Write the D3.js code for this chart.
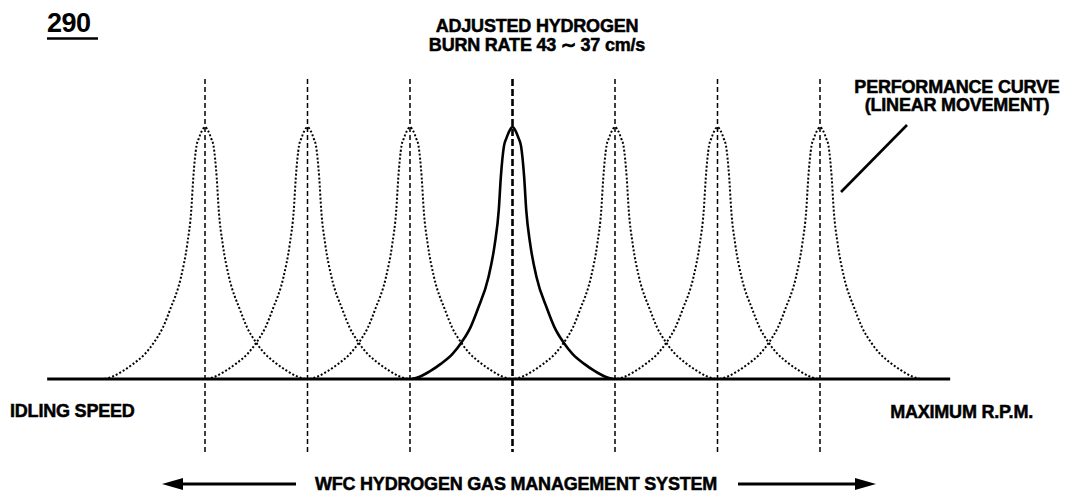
<!DOCTYPE html>
<html>
<head>
<meta charset="utf-8">
<script src="https://cdn.jsdelivr.net/npm/d3@7"></script>
<style>
  html, body { margin: 0; padding: 0; background: #fff; }
  svg { display: block; }
  text { font-family: "Liberation Sans", Arial, sans-serif; font-weight: bold; fill: #000; }
  text.heavy { stroke: #000; stroke-width: 0.5px; }
</style>
</head>
<body>
<svg id="chart" width="1066" height="493"></svg>
<script>
// Engine speed steps, each with its own performance curve peak
const speedSteps = [1, 2, 3, 4, 5, 6, 7];
const activeStep = 4;

// Shape of one performance curve: offset from the peak (in speed steps) and relative level
const profileOffset = [0, 0.03, 0.06, 0.083, 0.114, 0.134, 0.173, 0.234, 0.341, 0.41, 0.498, 0.585, 0.70, 0.80, 0.90, 0.98];
const profileLevel  = [1, 0.985, 0.955, 0.925, 0.80, 0.67, 0.535, 0.405, 0.275, 0.205, 0.145, 0.10, 0.06, 0.032, 0.01, 0];

// Extents of the speed axis and of the guide lines
const axisExtent  = [-0.54, 8.27];
const guideExtent = [-0.29, 1.19];

// Labels
const figureNumber = "290";
const titleLines = ["ADJUSTED HYDROGEN", "BURN RATE 43 \u223C 37 cm/s"];
const curveLabel = ["PERFORMANCE CURVE", "(LINEAR MOVEMENT)"];
const lowEndLabel = "IDLING SPEED";
const highEndLabel = "MAXIMUM R.P.M.";
const systemLabel = "WFC HYDROGEN GAS MANAGEMENT SYSTEM";

const svg = d3.select("#chart");

const x = d3.scaleLinear().domain([1, 7]).range([205, 820]);
const y = d3.scaleLinear().domain([0, 1]).range([379, 127]);

const labelSize = 18;
const labelSpacing = "-0.2px";

// Figure number with underline
svg.append("text").attr("x", 47).attr("y", 32)
  .attr("font-size", 27).style("letter-spacing", "-0.5px").text(figureNumber);
svg.append("line").attr("x1", 47).attr("x2", 98).attr("y1", 38.5).attr("y2", 38.5)
  .attr("stroke", "#000").attr("stroke-width", 2.4);

// Title
svg.selectAll("text.title").data(titleLines).join("text")
  .attr("class", "title heavy")
  .attr("x", 537).attr("y", (d, i) => 32 + i * 18.5)
  .attr("text-anchor", "middle").attr("font-size", labelSize)
  .style("letter-spacing", labelSpacing)
  .text(d => d);

// Vertical guide lines at each speed step
svg.selectAll("line.guide").data(speedSteps).join("line")
  .attr("class", "guide")
  .attr("x1", d => x(d)).attr("x2", d => x(d))
  .attr("y1", y(guideExtent[1])).attr("y2", y(guideExtent[0]))
  .attr("stroke", "#000")
  .attr("stroke-width", d => d === activeStep ? 2.6 : 1.5)
  .attr("stroke-dasharray", d => d === activeStep ? "7,3" : "5,3");

// Performance curves
const line = d3.line()
  .x(p => x(p[0])).y(p => y(p[1]))
  .curve(d3.curveMonotoneX);

function curvePoints(step) {
  const left = profileOffset.map((o, i) => [step - o, profileLevel[i]]).reverse();
  const right = profileOffset.slice(1).map((o, i) => [step + o, profileLevel[i + 1]]);
  return left.concat(right);
}

svg.selectAll("path.curve").data(speedSteps.filter(s => s !== activeStep)).join("path")
  .attr("class", "curve")
  .attr("d", d => line(curvePoints(d)))
  .attr("fill", "none").attr("stroke", "#000")
  .attr("stroke-width", 2).attr("stroke-dasharray", "2,2");

svg.append("path")
  .attr("d", line(curvePoints(activeStep)))
  .attr("fill", "none").attr("stroke", "#000").attr("stroke-width", 2.6);

// Speed axis baseline
svg.append("line")
  .attr("x1", x(axisExtent[0])).attr("x2", x(axisExtent[1]))
  .attr("y1", y(0)).attr("y2", y(0))
  .attr("stroke", "#000").attr("stroke-width", 3);

// Axis end labels
svg.append("text").attr("class", "heavy").attr("x", 10).attr("y", 417).attr("font-size", labelSize)
  .style("letter-spacing", labelSpacing).text(lowEndLabel);
svg.append("text").attr("class", "heavy").attr("x", 1033).attr("y", 418).attr("font-size", labelSize)
  .attr("text-anchor", "end").style("letter-spacing", labelSpacing).text(highEndLabel);

// Curve annotation with leader line
svg.selectAll("text.note").data(curveLabel).join("text")
  .attr("class", "note heavy")
  .attr("x", 957).attr("y", (d, i) => 93 + i * 18)
  .attr("text-anchor", "middle").attr("font-size", labelSize)
  .style("letter-spacing", labelSpacing)
  .text(d => d);
svg.append("line").attr("x1", 841).attr("y1", 192).attr("x2", 907).attr("y2", 125)
  .attr("stroke", "#000").attr("stroke-width", 2.6);

// System label between two arrows
svg.append("text").attr("class", "heavy").attr("x", 516).attr("y", 490).attr("text-anchor", "middle")
  .attr("font-size", labelSize).style("letter-spacing", labelSpacing).text(systemLabel);

const arrowY = 484;
svg.append("line").attr("x1", 176).attr("x2", 296).attr("y1", arrowY).attr("y2", arrowY)
  .attr("stroke", "#000").attr("stroke-width", 2.8);
svg.append("path").attr("d", `M162,${arrowY} L183,${arrowY - 6} L183,${arrowY + 6} Z`).attr("fill", "#000");
svg.append("line").attr("x1", 738).attr("x2", 862).attr("y1", arrowY).attr("y2", arrowY)
  .attr("stroke", "#000").attr("stroke-width", 2.8);
svg.append("path").attr("d", `M876,${arrowY} L855,${arrowY - 6} L855,${arrowY + 6} Z`).attr("fill", "#000");
</script>
</body>
</html>
